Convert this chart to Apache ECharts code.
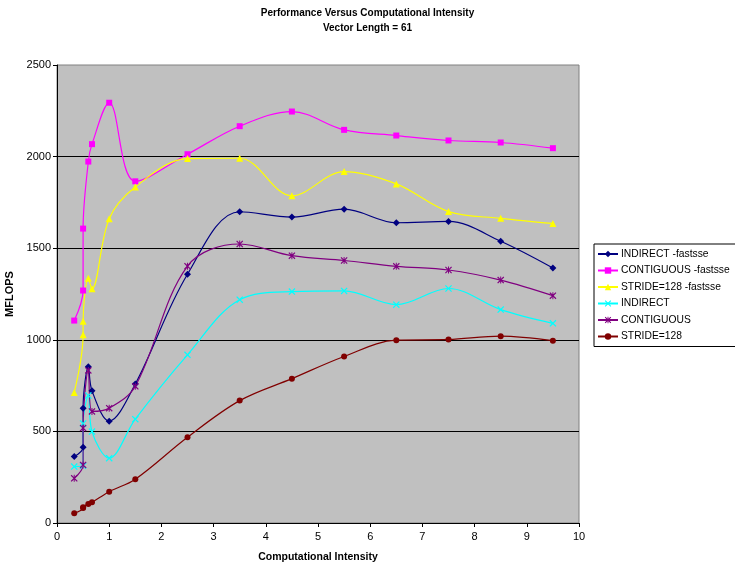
<!DOCTYPE html>
<html><head><meta charset="utf-8">
<script src="https://cdn.jsdelivr.net/npm/echarts@6/dist/echarts.min.js"></script>
<style>html,body{margin:0;padding:0;background:#fff}#c{width:735px;height:569px}</style>
</head><body><div id="c"></div>
<script>
var xValues = [0.33, 0.5, 0.5, 0.6, 0.67, 1, 1.5, 2.5, 3.5, 4.5, 5.5, 6.5, 7.5, 8.5, 9.5];
var seriesNames = ['INDIRECT -fastsse', 'CONTIGUOUS -fastsse', 'STRIDE=128 -fastsse', 'INDIRECT', 'CONTIGUOUS', 'STRIDE=128'];
var indirectFast = [363, 414, 627, 853, 722, 556, 759, 1358, 1699, 1670, 1713, 1639, 1646, 1538, 1392];
var contiguousFast = [1105, 1269, 1607, 1973, 2068, 2294, 1865, 2013, 2166, 2246, 2146, 2115, 2088, 2077, 2046];
var strideFast = [713, 1028, 1101, 1336, 1278, 1661, 1834, 1989, 1991, 1786, 1918, 1851, 1700, 1663, 1635];
var indirect = [308, 312, 543, 696, 499, 354, 567, 918, 1219, 1263, 1267, 1192, 1280, 1165, 1090];
var contiguous = [244, 317, 518, 833, 609, 627, 746, 1402, 1523, 1459, 1433, 1401, 1381, 1326, 1241];
var stride = [53, 82, 86, 104, 113, 171, 239, 468, 668, 788, 909, 998, 1002, 1020, 995];
var xTicks = {min: 0, max: 10, interval: 1};
var yTicks = {min: 0, max: 2500, interval: 500};

var colors = ['#000080', '#FF00FF', '#FFFF00', '#00FFFF', '#800080', '#800000'];
var xSym = 'path://M0,1.2L1.2,0L5,3.8L8.8,0L10,1.2L6.2,5L10,8.8L8.8,10L5,6.2L1.2,10L0,8.8L3.8,5Z';
var starSym = 'path://M0,1.2L1.2,0L5,3.8L8.8,0L10,1.2L6.2,5L10,8.8L8.8,10L5,6.2L1.2,10L0,8.8L3.8,5ZM4.3,0L5.7,0L5.7,10L4.3,10Z';
var symbols = ['diamond', 'rect', 'triangle', xSym, starSym, 'circle'];
var sizes = [7, 6, 7, 7, 7, 6];
var allData = [indirectFast, contiguousFast, strideFast, indirect, contiguous, stride];

var font = 'Arial, "Liberation Sans", sans-serif';
var series = allData.map(function (arr, i) {
  return {
    name: seriesNames[i],
    type: 'line',
    smooth: 0.35,
    data: arr.map(function (v, j) { return [xValues[j], v]; }),
    symbol: symbols[i],
    symbolSize: sizes[i],
    showAllSymbol: true,
    lineStyle: {color: colors[i], width: 1.2},
    itemStyle: {color: colors[i]},
    emphasis: {disabled: true},
    animation: false
  };
});

var chart = echarts.init(document.getElementById('c'), null, {renderer: 'canvas'});
chart.setOption({
  animation: false,
  color: colors,
  title: {
    text: 'Performance Versus Computational Intensity\nVector Length = 61',
    left: 'center',
    top: 1,
    textStyle: {fontFamily: font, fontSize: 10, fontWeight: 'bold', color: '#000', lineHeight: 15}
  },
  legend: {
    orient: 'vertical',
    left: 594,
    top: 244,
    width: 139,
    padding: [5, 10, 5, 3],
    itemGap: 6.5,
    itemWidth: 20,
    itemHeight: 8,
    borderColor: '#000',
    borderWidth: 1,
    backgroundColor: '#fff',
    data: seriesNames,
    textStyle: {fontFamily: font, fontSize: 10.3, color: '#000', padding: [0, 0, 0, -2]}
  },
  grid: {
    left: 57, top: 65, right: 156, bottom: 46,
    outerBoundsMode: 'none',
    containLabel: false,
    show: true, backgroundColor: '#C0C0C0', borderColor: '#808080', borderWidth: 1
  },
  xAxis: {
    type: 'value',
    min: xTicks.min, max: xTicks.max, interval: xTicks.interval,
    name: 'Computational Intensity',
    nameLocation: 'middle',
    nameGap: 29,
    nameTextStyle: {fontFamily: font, fontSize: 10.5, fontWeight: 'bold', color: '#000'},
    axisLine: {lineStyle: {color: '#000', width: 1}},
    axisTick: {show: true, length: 4, lineStyle: {color: '#000'}},
    axisLabel: {fontFamily: font, fontSize: 11, color: '#000', margin: 8},
    splitLine: {show: false}
  },
  yAxis: {
    type: 'value',
    min: yTicks.min, max: yTicks.max, interval: yTicks.interval,
    name: 'MFLOPS',
    nameLocation: 'middle',
    nameGap: 40,
    nameTextStyle: {fontFamily: font, fontSize: 11, fontWeight: 'bold', color: '#000'},
    axisLine: {show: true, lineStyle: {color: '#000', width: 1}},
    axisTick: {show: true, length: 4, lineStyle: {color: '#000'}},
    axisLabel: {fontFamily: font, fontSize: 11, color: '#000', margin: 6, formatter: function (v) { return String(v); }},
    splitLine: {show: true, showMinLine: false, showMaxLine: false, lineStyle: {color: '#000', width: 1}}
  },
  series: series
});
</script>
</body></html>
